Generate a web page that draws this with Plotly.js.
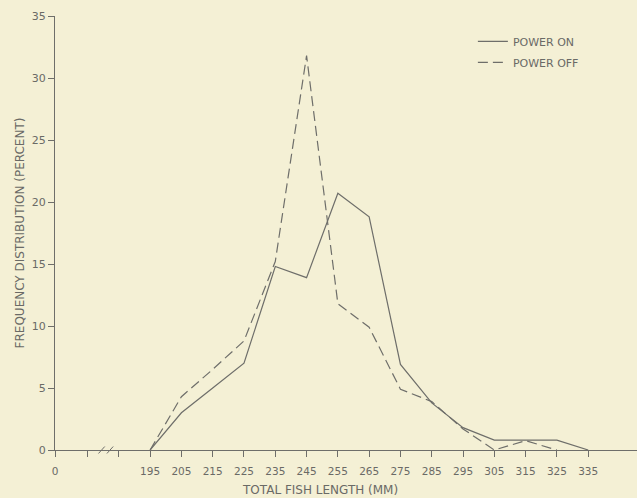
<!DOCTYPE html>
<html>
<head>
<meta charset="utf-8">
<script src="https://cdn.plot.ly/plotly-3.0.1.min.js"></script>
<style>html,body{margin:0;padding:0;background:#f4f0d5;}</style>
</head>
<body>
<div id="chart" style="width:637px;height:498px;"></div>
<script>
// Data
const lengths = [195, 205, 215, 225, 235, 245, 255, 265, 275, 285, 295, 305, 315, 325, 335];
const powerOn = [0, 3.0, 5.0, 7.0, 14.8, 13.9, 20.7, 18.8, 6.9, 3.8, 1.8, 0.8, 0.8, 0.8, 0];
const lengthsOff = [195, 205, 215, 225, 235, 245, 255, 265, 275, 285, 295, 305, 315, 325];
const powerOff = [0, 4.3, 6.5, 8.8, 15.2, 31.8, 11.8, 9.9, 4.9, 3.9, 1.7, 0, 0.75, 0];
const xTickVals = [164.6, 175, 185, 195, 205, 215, 225, 235, 245, 255, 265, 275, 285, 295, 305, 315, 325, 335];
const xTickText = ['0', '', '', '195', '205', '215', '225', '235', '245', '255', '265', '275', '285', '295', '305', '315', '325', '335'];
const yTickVals = [0, 5, 10, 15, 20, 25, 30, 35];

const ink = '#6e6e6a';
const traces = [
  {x: lengths, y: powerOn, mode: 'lines', name: 'POWER ON', legendgroup: 'a',
   line: {color: ink, width: 1.2}},
  {x: lengthsOff, y: powerOff, mode: 'lines', name: 'POWER OFF', legendgroup: 'b',
   line: {color: ink, width: 1.2, dash: '10px,5px'}}
];

const layout = {
  width: 637, height: 498,
  margin: {l: 55, r: 0, t: 16, b: 48},
  paper_bgcolor: '#f4f0d5', plot_bgcolor: '#f4f0d5',
  font: {family: 'DejaVu Sans, sans-serif', size: 10, color: '#6a6a66'},
  showlegend: true,
  legend: {x: 0.718, y: 0.975, xanchor: 'left', yanchor: 'top', bgcolor: 'rgba(0,0,0,0)',
           font: {size: 11}, traceorder: 'grouped', tracegroupgap: 2},
  xaxis: {range: [164.6, 350.6], showgrid: false, zeroline: false, showline: true,
          linecolor: ink, linewidth: 1, ticks: 'outside', ticklen: 6, tickcolor: ink,
          tickvals: xTickVals, ticktext: xTickText, tickfont: {size: 10.5},
          ticklabelstandoff: 5, fixedrange: true},
  yaxis: {range: [0, 35], showgrid: false, zeroline: false, showline: true,
          linecolor: ink, linewidth: 1, ticks: 'outside', ticklen: 6, tickcolor: ink,
          tickvals: yTickVals, tickfont: {size: 11},
          title: {text: 'FREQUENCY DISTRIBUTION (PERCENT)', font: {size: 12}, standoff: 4}},
  annotations: [
    {text: 'TOTAL FISH LENGTH (MM)', xref: 'paper', yref: 'paper', x: 0.455, y: -0.092,
     xanchor: 'center', yanchor: 'middle', showarrow: false, font: {size: 12}}
  ],
  shapes: [
    {type: 'line', xref: 'x', yref: 'paper', x0: 178.5, x1: 180.5, y0: -0.008, y1: 0.008,
     line: {color: ink, width: 1}},
    {type: 'line', xref: 'x', yref: 'paper', x0: 181.2, x1: 183.2, y0: -0.008, y1: 0.008,
     line: {color: ink, width: 1}}
  ]
};

Plotly.newPlot('chart', traces, layout, {displayModeBar: false, staticPlot: true});
</script>
</body>
</html>
